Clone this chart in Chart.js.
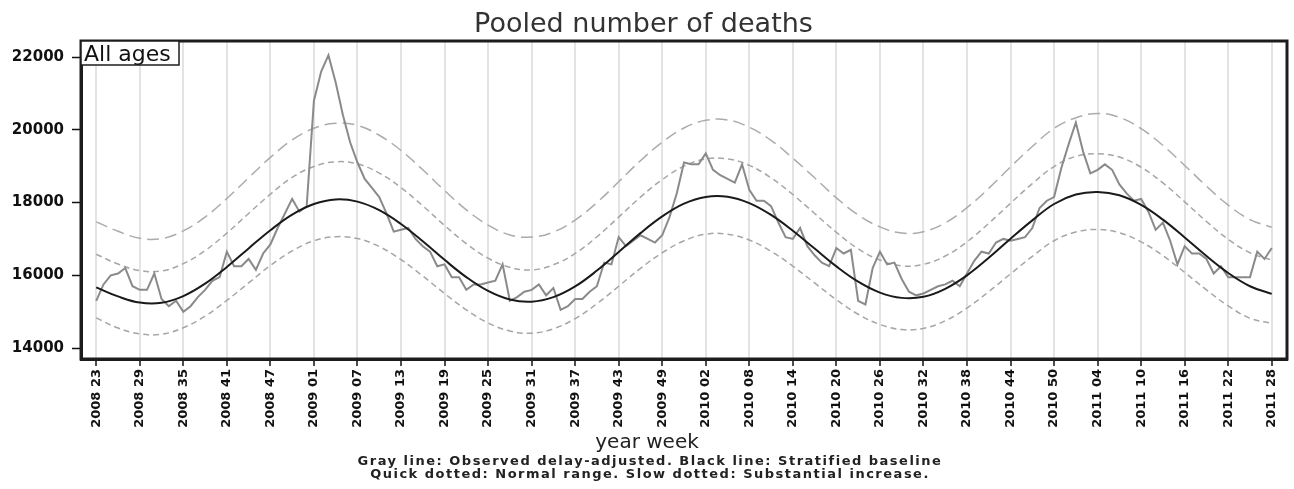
<!DOCTYPE html>
<html>
<head>
<meta charset="utf-8">
<title>Pooled number of deaths</title>
<script src="https://cdn.jsdelivr.net/npm/chart.js@4.4.1/dist/chart.umd.min.js"></script>
<style>
  html, body { margin: 0; padding: 0; background: #fff; }
  #chart { display: block; }
</style>
</head>
<body>
<canvas id="chart" width="1294" height="489" style="width:1294px;height:489px"></canvas>
<script>
'use strict';

/* DATA */
// week 0 = 2008 week 23, one label every 6 weeks
const tickLabels = [
  '2008 23', '2008 29', '2008 35', '2008 41', '2008 47',
  '2009 01', '2009 07', '2009 13', '2009 19', '2009 25', '2009 31', '2009 37', '2009 43', '2009 49',
  '2010 02', '2010 08', '2010 14', '2010 20', '2010 26', '2010 32', '2010 38', '2010 44', '2010 50',
  '2011 04', '2011 10', '2011 16', '2011 22', '2011 28'
];
const yTicks = [14000, 16000, 18000, 20000, 22000];
const notes = [
  'Gray line: Observed delay-adjusted. Black line: Stratified baseline',
  'Quick dotted: Normal range. Slow dotted: Substantial increase.'
];

// gray line: observed delay-adjusted, one value per week
const observed = [
  15300, 15750, 16000, 16050, 16200, 15700, 15600, 15600, 16050, 15350,
  15150, 15300, 15000, 15150, 15400, 15600, 15850, 15950, 16650, 16250,
  16250, 16450, 16150, 16600, 16850, 17300, 17700, 18100, 17750, 17900,
  20800, 21600, 22050, 21300, 20400, 19650, 19100, 18650, 18400, 18150,
  17700, 17200, 17250, 17300, 17000, 16800, 16650, 16250, 16300, 15950,
  15950, 15600, 15750, 15750, 15800, 15850, 16300, 15300, 15400, 15550,
  15600, 15750, 15450, 15650, 15050, 15150, 15350, 15350, 15550, 15700,
  16350, 16300, 17050, 16800, 16950, 17100, 17000, 16900, 17100, 17600,
  18250, 19100, 19050, 19050, 19350, 18900, 18750, 18650, 18550, 19050,
  18350, 18050, 18050, 17900, 17450, 17050, 17000, 17300, 16800, 16550,
  16350, 16250, 16750, 16600, 16700, 15300, 15200, 16200, 16650, 16300,
  16350, 15900, 15550, 15450, 15500, 15600, 15700, 15750, 15850, 15700,
  16050, 16400, 16650, 16600, 16900, 17000, 16950, 17000, 17050, 17300,
  17850, 18050, 18150, 18950, 19600, 20200, 19400, 18800, 18900, 19050,
  18900, 18500, 18250, 18050, 18100, 17750, 17250, 17450, 16950, 16300,
  16800, 16600, 16600, 16450, 16050, 16250, 15950, 15950, 15950, 15950,
  16650, 16450, 16750
];

// smooth curves, read every 3rd week
const smoothStep = 3;
const baseline = [
  15670, 15420, 15250, 15245, 15430, 15770, 16230, 16740, 17240, 17670,
  17960, 18085, 18025, 17790, 17410, 16935, 16425, 15950, 15570, 15335,
  15275, 15400, 15695, 16130, 16640, 17160, 17620, 17970, 18155, 18160,
  17985, 17660, 17225, 16735, 16245, 15825, 15525, 15380, 15410, 15630,
  16000, 16480, 17005, 17510, 17960, 18220, 18290, 18200, 17935, 17530,
  17040, 16530, 16065, 15700, 15490
];
// quick dotted: normal range
const normalHigh = [
  16580, 16310, 16130, 16120, 16320, 16680, 17160, 17700, 18230, 18690,
  18990, 19120, 19060, 18810, 18410, 17910, 17370, 16870, 16470, 16220,
  16150, 16290, 16600, 17060, 17600, 18150, 18630, 19000, 19200, 19200,
  19020, 18680, 18220, 17700, 17180, 16730, 16420, 16260, 16300, 16530,
  16920, 17430, 17980, 18520, 18990, 19270, 19340, 19250, 18970, 18540,
  18020, 17480, 16990, 16620, 16420
];
const normalLow = [
  14830, 14550, 14390, 14380, 14560, 14880, 15310, 15790, 16270, 16670,
  16950, 17060, 17010, 16790, 16430, 15980, 15500, 15050, 14690, 14470,
  14410, 14530, 14810, 15220, 15700, 16190, 16620, 16950, 17130, 17130,
  16970, 16660, 16250, 15790, 15330, 14930, 14650, 14510, 14540, 14750,
  15100, 15550, 16040, 16520, 16950, 17190, 17260, 17170, 16920, 16540,
  16080, 15600, 15160, 14820, 14680
];
// slow dotted: substantial increase
const substantial = [
  17470, 17210, 17020, 17010, 17220, 17600, 18110, 18680, 19240, 19720,
  20040, 20180, 20120, 19850, 19430, 18900, 18330, 17800, 17380, 17110,
  17050, 17190, 17520, 18000, 18570, 19150, 19660, 20050, 20260, 20270,
  20070, 19710, 19220, 18680, 18130, 17660, 17330, 17160, 17200, 17440,
  17860, 18390, 18980, 19540, 20040, 20330, 20450, 20340, 20030, 19570,
  19020, 18450, 17930, 17530, 17320
];

/* HELPERS */
const font = 'DejaVu Sans';

function weekly(arr) { return arr.map((v, i) => ({ x: i, y: v })); }
function every3(arr) { return arr.map((v, i) => ({ x: i * smoothStep, y: v })); }

function smoothLine(data, color, dash) {
  return {
    data: every3(data),
    borderColor: color,
    borderWidth: 1.5,
    borderDash: dash,
    tension: 0.4,
    pointRadius: 0,
    fill: false
  };
}

/* PLUGINS */
// closes the box round the plot area, adds the corner tag and the texts under the axis
const decorPlugin = {
  id: 'decor',
  afterDraw(chart) {
    const { ctx, chartArea: a, width } = chart;
    ctx.save();
    ctx.strokeStyle = '#1c1c1c';
    ctx.lineWidth = 3;
    ctx.strokeRect(a.left, a.top, a.right - a.left, a.bottom - a.top);

    // "All ages" tag
    ctx.fillStyle = '#fff';
    ctx.fillRect(a.left, a.top, 98, 24);
    ctx.lineWidth = 1.5;
    ctx.strokeRect(a.left, a.top, 98, 24);
    ctx.fillStyle = '#111';
    ctx.font = '22px "' + font + '"';
    ctx.textBaseline = 'alphabetic';
    ctx.textAlign = 'left';
    ctx.fillText('All ages', a.left + 3, a.top + 20);

    // axis title, centred on the page like the other texts
    ctx.fillStyle = '#222';
    ctx.font = '20px "' + font + '"';
    ctx.textAlign = 'center';
    ctx.textBaseline = 'middle';
    ctx.fillText('year week', width / 2, a.bottom + 84);

    // the two explanation lines (the original font runs wide)
    ctx.font = 'bold 13px "' + font + '"';
    ctx.letterSpacing = '1.5px';
    notes.forEach((line, i) => {
      ctx.fillText(line, width / 2 + 3, a.bottom + 103 + i * 13);
    });
    ctx.restore();
  }
};

/* CHART */
new Chart(document.getElementById('chart'), {
  type: 'line',
  data: {
    datasets: [
      {
        data: every3(baseline),
        borderColor: '#1a1a1a',
        borderWidth: 2,
        tension: 0.4,
        pointRadius: 0,
        fill: false
      },
      {
        data: weekly(observed),
        borderColor: '#8a8a8a',
        borderWidth: 2,
        tension: 0,
        pointRadius: 0,
        fill: false
      },
      smoothLine(normalHigh, '#a6a6a6', [6, 4]),
      smoothLine(normalLow, '#a6a6a6', [6, 4]),
      smoothLine(substantial, '#ababab', [12, 6])
    ]
  },
  options: {
    responsive: false,
    animation: false,
    devicePixelRatio: 1,
    layout: { padding: { left: 0, right: 7, top: 0, bottom: 36.5 } },
    plugins: {
      legend: { display: false },
      tooltip: { enabled: false },
      title: {
        display: true,
        text: 'Pooled number of deaths',
        color: '#333',
        font: { family: font, size: 27, weight: 'normal', lineHeight: 1.2 },
        padding: { top: 9, bottom: -0.4 }
      }
    },
    scales: {
      x: {
        type: 'linear',
        min: -2.1,
        max: 164.1,
        afterBuildTicks: s => { s.ticks = tickLabels.map((_, i) => ({ value: i * 6 })); },
        afterFit: s => { s.height = 93.5; },
        ticks: {
          autoSkip: false,
          minRotation: 90,
          maxRotation: 90,
          padding: 3,
          color: '#111',
          font: { family: font, size: 13, weight: 'bold' },
          callback: (v, i) => tickLabels[i]
        },
        grid: {
          color: '#e3e3e3',
          lineWidth: 2,
          tickColor: '#111',
          tickLength: 7,
          tickWidth: 1.5
        },
        border: { color: '#1c1c1c', width: 3 }
      },
      y: {
        min: 13700,
        max: 22440,
        afterBuildTicks: s => { s.ticks = yTicks.map(v => ({ value: v })); },
        afterFit: s => { s.width = 81; },
        ticks: {
          padding: 8,
          color: '#111',
          font: { family: font, size: 15, weight: 'bold' },
          callback: v => String(v)
        },
        grid: {
          drawOnChartArea: false,
          tickColor: '#111',
          tickLength: 9,
          tickWidth: 1.5
        },
        border: { color: '#1c1c1c', width: 3 }
      }
    }
  },
  plugins: [decorPlugin]
});
</script>
</body>
</html>
